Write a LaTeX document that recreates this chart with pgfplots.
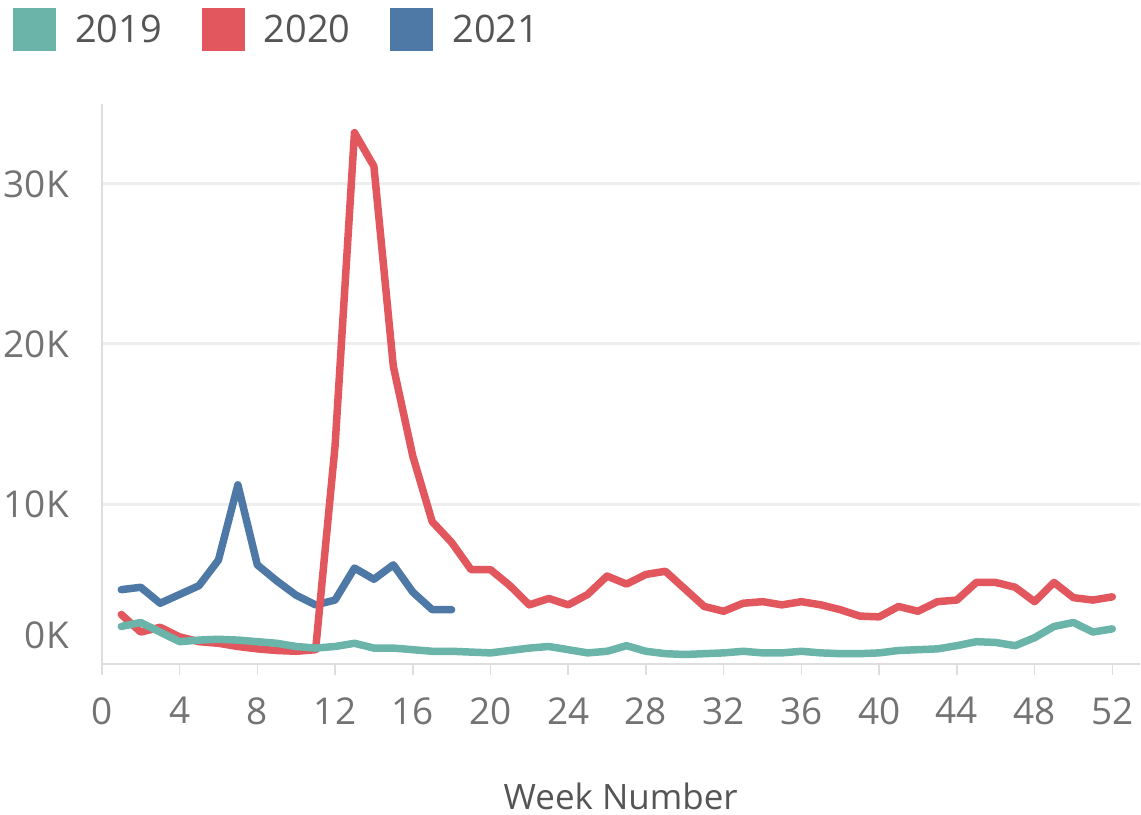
\documentclass[border=0pt]{standalone}
\usepackage{fontspec}
\setmainfont{Open Sans}
\usepackage{pgfplots}
\usepackage{pgfplotstable}
\pgfplotsset{compat=1.18}
\definecolor{cteal}{RGB}{106,180,170}
\definecolor{cred}{RGB}{226,87,94}
\definecolor{cblue}{RGB}{78,121,167}
\definecolor{tickgray}{RGB}{115,115,115}
\definecolor{labgray}{RGB}{85,85,85}
\definecolor{gridgray}{RGB}{238,238,238}
\definecolor{axgray}{RGB}{222,222,222}

\pgfplotstableread{
week val
1 2.35
2 2.6
3 2.0
4 1.4
5 1.5
6 1.55
7 1.5
8 1.4
9 1.3
10 1.1
11 1.0
12 1.1
13 1.3
14 1.0
15 1.0
16 0.9
17 0.8
18 0.8
19 0.75
20 0.7
21 0.85
22 1.0
23 1.1
24 0.9
25 0.7
26 0.8
27 1.15
28 0.8
29 0.65
30 0.6
31 0.65
32 0.7
33 0.8
34 0.7
35 0.7
36 0.8
37 0.7
38 0.65
39 0.65
40 0.7
41 0.85
42 0.9
43 0.95
44 1.15
45 1.4
46 1.35
47 1.15
48 1.65
49 2.35
50 2.6
51 2.0
52 2.2
}\dataA

\pgfplotstableread{
week val
1 3.1
2 2.0
3 2.3
4 1.7
5 1.4
6 1.3
7 1.1
8 0.95
9 0.85
10 0.8
11 0.9
12 13.6
13 33.2
14 31.1
15 18.6
16 13.0
17 8.9
18 7.6
19 5.9
20 5.9
21 4.9
22 3.7
23 4.1
24 3.7
25 4.35
26 5.5
27 5.0
28 5.6
29 5.8
30 4.7
31 3.6
32 3.3
33 3.8
34 3.9
35 3.7
36 3.9
37 3.7
38 3.4
39 3.0
40 2.95
41 3.6
42 3.3
43 3.9
44 4.0
45 5.1
46 5.1
47 4.8
48 3.9
49 5.1
50 4.15
51 4.0
52 4.2
}\dataB

\pgfplotstableread{
week val
1 4.65
2 4.8
3 3.8
4 4.35
5 4.9
6 6.5
7 11.2
8 6.2
9 5.2
10 4.3
11 3.7
12 4.0
13 6.0
14 5.3
15 6.2
16 4.5
17 3.4
18 3.4
}\dataC

\begin{document}
\begin{tikzpicture}
\begin{axis}[
  name=ax,
  scale only axis,
  width=1039pt, height=561pt,
  xmin=0, xmax=53.4,
  ymin=0, ymax=35,
  axis lines=left,
  axis line style={-, draw=axgray, line width=1.5pt},
  xtick={0,4,...,52},
  tick align=outside,
  major tick length=11pt,
  xtick style={draw=axgray, line width=1.5pt},
  ytick={10,20,30},
  yticklabels={10K,20K,30K},
  ytick style={draw=none},
  extra y ticks={0},
  extra y tick labels={0K},
  extra y tick style={grid=none, yticklabel style={yshift=29pt}},
  ymajorgrids,
  major grid style={draw=gridgray, line width=3pt},
  scaled y ticks=false,
  /pgf/number format/assume math mode=true,
  tick label style={font=\fontsize{37}{40}\selectfont, text=tickgray, inner sep=0pt},
  yticklabel style={anchor=east, xshift=-22pt},
  xticklabel style={anchor=north, yshift=-22pt},
  xlabel={Week Number},
  xlabel style={font=\fontsize{35}{40}\selectfont, text=labgray, inner sep=0pt,
    at={(axis description cs:0.5,0)}, anchor=north, yshift=-119pt},
  every axis plot/.append style={line width=7.5pt, line join=round, line cap=round},
  legend columns=3,
  reverse legend,
  legend image code/.code={\fill[#1, draw=none] (0pt,-21.5pt) rectangle (43pt,21.5pt);},
  legend style={at={(axis description cs:0,1)}, anchor=north west,
    xshift=-89pt, yshift=96pt, draw=none, fill=none, inner sep=0pt,
    column sep=19pt, cells={anchor=west},
    nodes={inner sep=0pt, font=\fontsize{38}{40}\selectfont, text=labgray}},
  legend style={/tikz/every even column/.append style={column sep=40pt}},
]
\addplot[color=cblue] table[x=week, y=val] {\dataC};
\addlegendentry{2021}
\addplot[color=cred] table[x=week, y=val] {\dataB};
\addlegendentry{2020}
\addplot[color=cteal] table[x=week, y=val] {\dataA};
\addlegendentry{2019}
\end{axis}
\path ([xshift=-102pt, yshift=-151pt]ax.south west) rectangle ([yshift=104pt]ax.north east);
\end{tikzpicture}
\end{document}
